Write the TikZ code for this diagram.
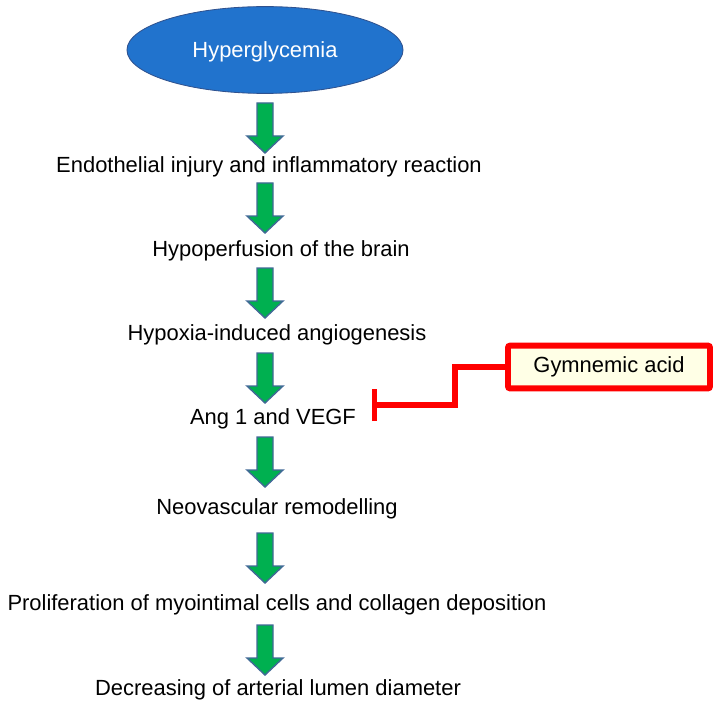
\documentclass[tikz,border=0pt]{standalone}
\usepackage{fontspec}
\setmainfont{Liberation Sans}
\usetikzlibrary{arrows.meta,shapes.geometric}
\definecolor{hyperblue}{RGB}{33,115,205}
\definecolor{edgeblue}{RGB}{47,82,143}
\definecolor{arrowgreen}{RGB}{0,176,80}
\definecolor{arrowedge}{RGB}{65,105,150}
\definecolor{inhibred}{RGB}{255,0,0}
\definecolor{cream}{RGB}{255,255,230}
\newcommand{\stepfont}{\fontsize{15.6}{18}\selectfont}

\begin{document}
\begin{tikzpicture}[x=0.025cm,y=-0.025cm]
\tikzset{txt/.style={font=\stepfont,inner sep=1pt}}
\tikzset{hyperstyle/.style={ellipse,fill=hyperblue,draw=edgeblue,line width=0.6pt,
  minimum width=6.9cm,minimum height=2.17cm,text=white,font=\stepfont,text depth=0pt}}
\tikzset{gabox/.style={draw=inhibred,fill=cream,line width=4.2pt,rounded corners=1.5pt,
  minimum width=5.05cm,minimum height=1.07cm,font=\stepfont}}
\tikzset{inhib/.style={draw=inhibred,line width=3.6pt,-{Bar[width=0.8cm]}}}
\tikzset{fatarrow/.pic={
  \draw[fill=arrowgreen,draw=arrowedge,line width=1pt,line join=miter]
    (-8,0) -- (-8,33) -- (-18,33) -- (0,50) -- (18,33) -- (8,33) -- (8,0) -- cycle;}}
\useasboundingbox (0,0) rectangle (720,708);

\node[hyperstyle] (hyper) at (265,50) {Hyperglycemia};
\node[txt] (endo) at (269,167) {Endothelial injury and inflammatory reaction};
\node[txt] (hypo) at (281,251) {Hypoperfusion of the brain};
\node[txt] (hypox) at (277,335) {Hypoxia-induced angiogenesis};
\node[txt] (ang) at (273,419) {Ang 1 and VEGF};
\node[txt] (neo) at (277,509) {Neovascular remodelling};
\node[txt] (prolif) at (277,605) {Proliferation of myointimal cells and collagen deposition};
\node[txt] (decr) at (278,690) {Decreasing of arterial lumen diameter};

% block arrows down the chain
\foreach \y in {103,183,268,353,437,533,625}
  \pic at (265,\y) {fatarrow};

\node[gabox] (gym) at (609,367) {Gymnemic acid};
\coordinate (block) at (372,405);
\draw[inhib] (gym.west) -- ++(-50,0) |- (block);
\end{tikzpicture}
\end{document}
